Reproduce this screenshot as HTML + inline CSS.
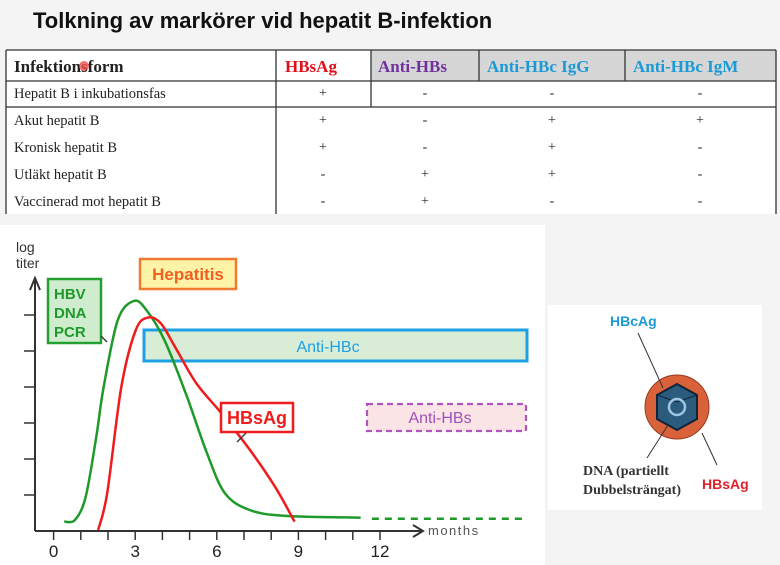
<!DOCTYPE html>
<html><head><meta charset="utf-8"><style>
body{margin:0;width:780px;height:565px;background:#f4f4f4;overflow:hidden;font-family:"Liberation Sans",sans-serif;position:relative}
.abs{position:absolute}
.serif{font-family:"Liberation Serif",serif}
</style></head><body>
<div class="abs" style="left:33px;top:8px;font-size:22px;font-weight:bold;color:#111">Tolkning av markörer vid hepatit B-infektion</div>

<svg class="abs" style="left:0;top:0" width="780" height="565">
 <rect x="6" y="50" width="770" height="164" fill="#fff"/>
 <rect x="371" y="50" width="405" height="31" fill="#d6d6d6"/>
 <g stroke="#333" stroke-width="1.3">
  <line x1="6" y1="50" x2="776" y2="50"/>
  <line x1="6" y1="81" x2="776" y2="81"/>
  <line x1="6" y1="107" x2="776" y2="107"/>
  <line x1="6" y1="50" x2="6" y2="214"/>
  <line x1="276" y1="50" x2="276" y2="214"/>
  <line x1="371" y1="50" x2="371" y2="107"/>
  <line x1="479" y1="50" x2="479" y2="81"/>
  <line x1="625" y1="50" x2="625" y2="81"/>
  <line x1="776" y1="50" x2="776" y2="214"/>
 </g>
 <g class="serif" font-family="Liberation Serif, serif" font-size="15" fill="#222">
  <text x="14" y="72" font-size="17" font-weight="bold">Infektionsform</text>
  <text x="285" y="72" font-size="17" font-weight="bold" fill="#e0101a">HBsAg</text>
  <text x="378" y="72" font-size="17" font-weight="bold" fill="#7030a0">Anti-HBs</text>
  <text x="487" y="72" font-size="17" font-weight="bold" fill="#1a9ad6">Anti-HBc IgG</text>
  <text x="633" y="72" font-size="17" font-weight="bold" fill="#1a9ad6">Anti-HBc IgM</text>
 </g>
 <circle cx="84" cy="66" r="5" fill="#f05050" opacity="0.8"/>
 <g id="rows" font-family="Liberation Serif, serif" font-size="14.5" fill="#222"></g>

 <rect x="0" y="225" width="545" height="340" fill="#fff"/>
 <rect x="548" y="305" width="214" height="205" fill="#fff"/>
 <g id="chart"></g>

 <g>
  <circle cx="677" cy="407" r="32" fill="#d9623b" stroke="#9a3a20" stroke-width="1"/>
  <polygon points="677,384 697,395 697,419 677,430 657,419 657,395" fill="#2b5c7e" stroke="#10243a" stroke-width="2"/>
  <polyline points="657,395 677,402 697,395" fill="none" stroke="#10243a" stroke-width="1"/>
  <circle cx="677" cy="407" r="8" fill="none" stroke="#9cc6e2" stroke-width="2.5"/>
  <line x1="638" y1="333" x2="663" y2="388" stroke="#333" stroke-width="1"/>
  <line x1="647" y1="458" x2="668" y2="425" stroke="#333" stroke-width="1"/>
  <line x1="717" y1="465" x2="702" y2="433" stroke="#333" stroke-width="1"/>
  <text x="610" y="326" font-size="14" font-weight="bold" fill="#1a9ad6">HBcAg</text>
  <text x="583" y="475" font-family="Liberation Serif, serif" font-size="14" font-weight="bold" fill="#333">DNA (partiellt</text>
  <text x="583" y="494" font-family="Liberation Serif, serif" font-size="14" font-weight="bold" fill="#333">Dubbelsträngat)</text>
  <text x="702" y="489" font-size="14" font-weight="bold" fill="#e0202a">HBsAg</text>
 </g>
</svg>

<script>
const rowNames=["Hepatit B i inkubationsfas","Akut hepatit B","Kronisk hepatit B","Utläkt hepatit B","Vaccinerad mot hepatit B"];
const rowMarks=[["+","-","-","-"],["+","-","+","+"],["+","-","+","-"],["-","+","+","-"],["-","+","-","-"]];
const NS="http://www.w3.org/2000/svg";
function mk(tag,attrs,parent,txt){const e=document.createElementNS(NS,tag);for(const k in attrs)e.setAttribute(k,attrs[k]);if(txt!==undefined)e.textContent=txt;parent.appendChild(e);return e;}
const rows=document.getElementById('rows');
const rowY=[98,125,152,179,206];
const colX=[323,425,552,700];
rowNames.forEach((n,i)=>{
 const t=mk('text',{x:14,y:rowY[i]},rows,n);
 
 
 rowMarks[i].forEach((m,j)=>{
  const s=mk('text',{x:colX[j],y:rowY[i]-1,'text-anchor':'middle','font-size':'14'},rows,m);
  
  
 });
});

// chart data (months, log titer units)
const xTickLabels=[0,3,6,9,12];
const dnaMonths=[0.39,0.79,1.18,1.57,1.84,2.36,2.95,3.41,4.07,4.86,5.64,6.30,7.22,8.53,11.29];
const dnaValues=[0.26,0.31,0.95,2.62,4.0,5.86,6.39,6.14,5.31,3.82,2.16,1.05,0.58,0.42,0.37];
const hbsMonths=[1.64,1.97,2.49,3.02,3.48,3.94,4.46,5.25,6.17,7.22,8.14,8.86];
const hbsValues=[0.03,1.05,4.0,5.58,5.93,5.77,5.12,4.10,3.27,2.25,1.23,0.26];
const dnaTailMonths=[11.7,17.4];
const dnaTailValues=[0.34,0.34];

const X0=53.6,XS=27.2,Y0=531,YS=36;
const sx=m=>X0+m*XS, sy=v=>Y0-v*YS;
const g=document.getElementById('chart');
function smooth(ms,vs){
 const p=ms.map((m,i)=>[sx(m),sy(vs[i])]);
 let d=`M${p[0][0]},${p[0][1]}`;
 for(let i=0;i<p.length-1;i++){
  const p0=p[i-1]||p[i],p1=p[i],p2=p[i+1],p3=p[i+2]||p[i+1];
  d+=` C${p1[0]+(p2[0]-p0[0])/6},${p1[1]+(p2[1]-p0[1])/6} ${p2[0]-(p3[0]-p1[0])/6},${p2[1]-(p3[1]-p1[1])/6} ${p2[0]},${p2[1]}`;
 }
 return d;
}
let e;
e=mk('rect',{x:144,y:330,width:383,height:31,fill:'#d9ecd6',stroke:'#1ea0e6','stroke-width':3},g);


e=mk('text',{x:328,y:352,'text-anchor':'middle','font-size':16,fill:'#1ea0e6'},g,'Anti-HBc');


e=mk('rect',{x:367,y:404,width:159,height:27,fill:'#fbe4e6',stroke:'#b055c0','stroke-width':2.2,'stroke-dasharray':'6,4'},g);


e=mk('text',{x:440,y:423,'text-anchor':'middle','font-size':16,fill:'#a050b8'},g,'Anti-HBs');


e=mk('path',{d:'M35,531 V280 M30,290 L35,278 L40,290 M35,531 H421 M413,525 L423,531 L413,537',fill:'none',stroke:'#333','stroke-width':2},g);


for(let v=1;v<=6;v++){
 e=mk('line',{x1:24,x2:35,y1:sy(v*1.0),y2:sy(v*1.0),stroke:'#333','stroke-width':1.5},g);
 
 
}
for(let m=0;m<=12;m++){
 e=mk('line',{x1:sx(m),x2:sx(m),y1:531,y2:540,stroke:'#333','stroke-width':1.5},g);
 
 
}
xTickLabels.forEach(l=>{
 e=mk('text',{x:sx(l),y:557,'text-anchor':'middle','font-size':17,fill:'#222'},g,String(l));
 
 
});
e=mk('text',{x:428,y:535,'font-size':13,fill:'#555','letter-spacing':'1.5'},g,'months');


e=mk('text',{x:16,y:252,'font-size':14,fill:'#333'},g,'log');


e=mk('text',{x:16,y:268,'font-size':14,fill:'#333'},g,'titer');


e=mk('path',{d:smooth(dnaMonths,dnaValues),fill:'none',stroke:'#1f9a2a','stroke-width':2.5},g);


e=mk('path',{d:smooth(hbsMonths,hbsValues),fill:'none',stroke:'#ee1c1c','stroke-width':2.5},g);


e=mk('line',{x1:sx(dnaTailMonths[0]),y1:sy(dnaTailValues[0]),x2:sx(dnaTailMonths[1]),y2:sy(dnaTailValues[1]),stroke:'#1f9a2a','stroke-width':2.5,'stroke-dasharray':'7,6'},g);


e=mk('rect',{x:140,y:259,width:96,height:30,fill:'#fff3a8',stroke:'#f07a30','stroke-width':2.5},g);


e=mk('text',{x:188,y:280,'text-anchor':'middle','font-size':17,'font-weight':'bold',fill:'#f06020'},g,'Hepatitis');


e=mk('rect',{x:48,y:279,width:53,height:64,fill:'#cfeccf',stroke:'#22a030','stroke-width':2.5},g);


['HBV','DNA','PCR'].forEach((t,i)=>{
 e=mk('text',{x:54,y:299+i*19,'font-size':15,'font-weight':'bold',fill:'#1f9a2a'},g,t);
 
 
});
e=mk('line',{x1:101,y1:336,x2:107,y2:342,stroke:'#333','stroke-width':1.3},g);


e=mk('rect',{x:221,y:403,width:72,height:29,fill:'#fff',stroke:'#ee1c1c','stroke-width':2.5},g);


e=mk('text',{x:257,y:424,'text-anchor':'middle','font-size':18,'font-weight':'bold',fill:'#ee1c1c'},g,'HBsAg');


e=mk('line',{x1:246,y1:433,x2:237,y2:442,stroke:'#333','stroke-width':1.3},g);


</script>
</body></html>
